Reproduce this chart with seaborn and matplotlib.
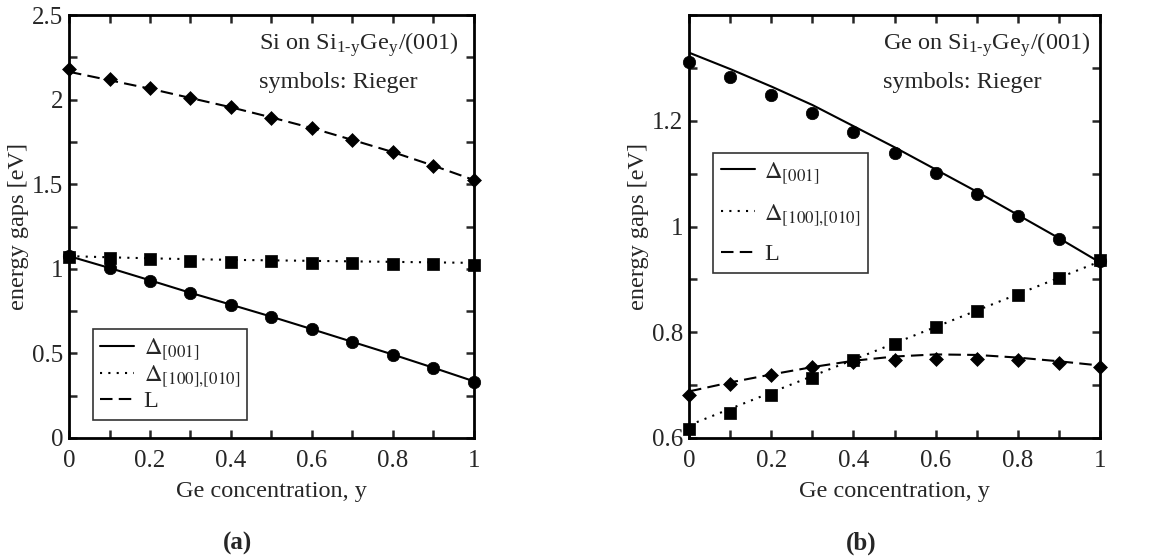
import numpy as np
import matplotlib
matplotlib.use("Agg")
import matplotlib.pyplot as plt
from matplotlib.ticker import MultipleLocator, FuncFormatter
import seaborn as sns

# Ge concentration
y_conc = [0, 0.1, 0.2, 0.3, 0.4, 0.5, 0.6, 0.7, 0.8, 0.9, 1.0]

# (a) Si on Si1-yGey/(001): theory curves
a_d001_line = [1.075, 1.005, 0.932, 0.858, 0.788, 0.717, 0.643, 0.568, 0.493, 0.415, 0.335]
a_d100_line = [1.075, 1.068, 1.062, 1.057, 1.053, 1.05, 1.047, 1.044, 1.041, 1.038, 1.035]
a_L_line = [2.165, 2.115, 2.065, 2.01, 1.955, 1.895, 1.832, 1.762, 1.69, 1.61, 1.525]
# (a) Rieger symbols
a_d001_sym = [1.075, 1.003, 0.930, 0.857, 0.788, 0.717, 0.642, 0.567, 0.492, 0.414, 0.333]
a_d100_sym = [1.072, 1.066, 1.056, 1.048, 1.042, 1.044, 1.034, 1.032, 1.028, 1.026, 1.022]
a_L_sym = [2.18, 2.12, 2.067, 2.011, 1.954, 1.893, 1.83, 1.759, 1.688, 1.609, 1.525]

# (b) Ge on Si1-yGey/(001): theory curves
b_d001_line = [1.329, 1.298, 1.265, 1.23, 1.19, 1.15, 1.108, 1.066, 1.022, 0.978, 0.932]
b_d100_line = [0.624, 0.655, 0.686, 0.717, 0.748, 0.779, 0.81, 0.841, 0.872, 0.903, 0.934]
b_L_line = [0.688, 0.705, 0.72, 0.734, 0.746, 0.754, 0.758, 0.757, 0.752, 0.745, 0.737]
# (b) Rieger symbols
b_d001_sym = [1.312, 1.282, 1.248, 1.215, 1.178, 1.14, 1.102, 1.062, 1.019, 0.977, 0.935]
b_d100_sym = [0.616, 0.648, 0.681, 0.714, 0.747, 0.777, 0.809, 0.84, 0.87, 0.903, 0.936]
b_L_sym = [0.681, 0.702, 0.72, 0.735, 0.743, 0.748, 0.75, 0.749, 0.747, 0.742, 0.735]

labels = [r"$\Delta_{[001]}$", r"$\Delta_{[100]{,}[010]}$", "L"]

sns.set_style("ticks")
plt.rcParams["font.family"] = ["Liberation Serif", "DejaVu Serif"]
plt.rcParams["mathtext.fontset"] = "stix"
plt.rcParams["font.size"] = 17

fig = plt.figure(figsize=(11.6, 5.6), dpi=100)
ax_a = fig.add_axes([0.0595, 0.218, 0.349, 0.755])
ax_b = fig.add_axes([0.594, 0.218, 0.3543, 0.755])

styles = ["-", (0, (1, 3)), (0, (6, 3))]
markers = ["o", "s", "D"]
msizes = [80, 66, 50]


def draw(ax, lines, syms):
    for vals, ls, lab in zip(lines, styles, labels):
        sns.lineplot(x=y_conc, y=vals, ax=ax, color="black", linestyle=ls,
                     linewidth=1.5, label=lab, legend=False)
    for vals, m, s in zip(syms, markers, msizes):
        sns.scatterplot(x=y_conc, y=vals, ax=ax, color="black", marker=m,
                        s=s, edgecolor="black", linewidth=0.5, zorder=3,
                        clip_on=False, legend=False)
    ax.set_xlim(0, 1)
    ax.xaxis.set_major_locator(MultipleLocator(0.2))
    ax.xaxis.set_minor_locator(MultipleLocator(0.1))
    ax.xaxis.set_major_formatter(FuncFormatter(lambda v, p: "%g" % round(v, 2)))
    ax.yaxis.set_major_formatter(FuncFormatter(lambda v, p: "%g" % round(v, 2)))
    ax.tick_params(which="both", direction="in", top=True, right=True,
                   length=6, width=1.8, labelsize=18)
    ax.tick_params(axis="x", pad=9)
    ax.tick_params(axis="y", pad=4)
    for sp in ax.spines.values():
        sp.set_linewidth(2)
        sp.set_color("black")
    ax.set_xlabel("Ge concentration, y", fontsize=17.5, labelpad=6)
    ax.set_ylabel("energy gaps [eV]", fontsize=17.5, labelpad=2)


draw(ax_a, [a_d001_line, a_d100_line, a_L_line], [a_d001_sym, a_d100_sym, a_L_sym])
ax_a.set_ylim(0, 2.5)
ax_a.yaxis.set_major_locator(MultipleLocator(0.5))
ax_a.yaxis.set_minor_locator(MultipleLocator(0.25))

draw(ax_b, [b_d001_line, b_d100_line, b_L_line], [b_d001_sym, b_d100_sym, b_L_sym])
ax_b.set_ylim(0.6, 1.4)
ax_b.set_yticks([0.6, 0.8, 1.0, 1.2])
ax_b.yaxis.set_minor_locator(MultipleLocator(0.1))

# legends: lines only
for ax, anchor, spacing in [(ax_a, (0.058, 0.043), 0.05), (ax_b, (0.059, 0.391), 0.65)]:
    leg = ax.legend(handles=ax.lines[:3], loc="lower left", bbox_to_anchor=anchor,
                    borderaxespad=0, frameon=True, fancybox=False, shadow=False,
                    fontsize=17.5, handlelength=1.4, handletextpad=0.4,
                    labelspacing=spacing, borderpad=0.3)
    leg.get_frame().set_edgecolor("black")
    leg.get_frame().set_linewidth(1.2)

ax_a.text(0.47, 0.965, r"Si on Si$_{\mathregular{1\text{-}y}}$Ge$_{\mathregular{y}}$/(001)",
          transform=ax_a.transAxes, fontsize=17.5, va="top", ha="left")
ax_a.text(0.47, 0.865, "symbols: Rieger", transform=ax_a.transAxes,
          fontsize=17.5, va="top", ha="left")
ax_b.text(0.471, 0.965, r"Ge on Si$_{\mathregular{1\text{-}y}}$Ge$_{\mathregular{y}}$/(001)",
          transform=ax_b.transAxes, fontsize=17.5, va="top", ha="left")
ax_b.text(0.471, 0.865, "symbols: Rieger", transform=ax_b.transAxes,
          fontsize=17.5, va="top", ha="left")

fig.text(0.205, 0.03, "(a)", fontsize=18, fontweight="bold", ha="center", va="center")
fig.text(0.742, 0.03, "(b)", fontsize=18, fontweight="bold", ha="center", va="center")

fig.savefig("out.png", dpi=100, facecolor="white")
